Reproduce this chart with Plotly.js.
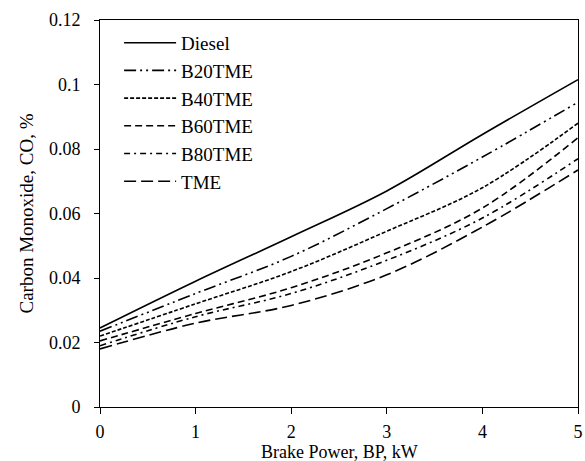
<!DOCTYPE html>
<html>
<head>
<meta charset="utf-8">
<script src="https://cdn.plot.ly/plotly-3.0.1.min.js"></script>
<style>html,body{margin:0;padding:0;background:#fff}#chart{width:585px;height:461px}</style>
</head>
<body>
<div id="chart"></div>
<script>
const bp = [0, 1, 2, 3, 4, 5];
const seriesNames = ["Diesel", "B20TME", "B40TME", "B60TME", "B80TME", "TME"];
const diesel = [0.0245, 0.039, 0.0528, 0.067, 0.0845, 0.1015];
const b20tme = [0.0235, 0.0352, 0.0467, 0.0615, 0.0775, 0.0945];
const b40tme = [0.022, 0.032, 0.042, 0.0545, 0.068, 0.088];
const b60tme = [0.0205, 0.029, 0.037, 0.0478, 0.0617, 0.0835];
const b80tme = [0.019, 0.028, 0.0352, 0.0455, 0.0586, 0.077];
const tme = [0.018, 0.026, 0.0315, 0.041, 0.0558, 0.0735];
const yTicks = [0, 0.02, 0.04, 0.06, 0.08, 0.1, 0.12];
const yTickText = ["0", "0.02", "0.04", "0.06", "0.08", "0.1", "0.12"];
const xTicks = [0, 1, 2, 3, 4, 5];
const xTitle = "Brake Power, BP, kW";
const yTitle = "Carbon Monoxide, CO, %";

const values = [diesel, b20tme, b40tme, b60tme, b80tme, tme];
const dashes = ["solid", "12px,4px,2px,4px,2px,4px", "4px,2px", "7px,4px", "6px,4px,2px,4px", "12px,5px"];

const traces = values.map((v, i) => ({
  x: bp, y: v, name: seriesNames[i], type: "scatter", mode: "lines",
  line: {color: "#000", width: 1.6, dash: dashes[i], shape: "spline", smoothing: 1}
}));

const font = {family: "Liberation Serif, Times New Roman, serif", color: "#000"};
const layout = {
  width: 585, height: 461,
  margin: {l: 100, r: 7, t: 20, b: 54},
  paper_bgcolor: "#fff", plot_bgcolor: "#fff",
  font: Object.assign({size: 18}, font),
  showlegend: true,
  legend: {x: 0.04, y: 0.99, xanchor: "left", yanchor: "top", bgcolor: "rgba(0,0,0,0)",
    font: Object.assign({size: 19}, font), itemwidth: 52, tracegroupgap: 0},
  xaxis: {range: [0, 5], tickvals: xTicks, ticks: "outside", ticklen: 6, tickcolor: "#000",
    ticklabelstandoff: 2,
    showline: true, linecolor: "#000", linewidth: 1, mirror: true, showgrid: false, zeroline: false,
    tickfont: Object.assign({size: 18}, font)},
  yaxis: {range: [0, 0.12], tickvals: yTicks, ticktext: yTickText, ticks: "outside", ticklen: 5, tickcolor: "#000",
    ticklabelstandoff: 10,
    showline: true, linecolor: "#000", linewidth: 1, mirror: true, showgrid: false, zeroline: false,
    tickfont: Object.assign({size: 18}, font),
    title: {text: yTitle, font: Object.assign({size: 19}, font), standoff: 10}},
  annotations: [{
    text: xTitle, xref: "paper", yref: "paper", x: 0.5, y: -0.089,
    xanchor: "center", yanchor: "top", showarrow: false, borderpad: 0,
    font: Object.assign({size: 18}, font)
  }]
};
Plotly.newPlot("chart", traces, layout, {staticPlot: true, displayModeBar: false});
</script>
</body>
</html>
